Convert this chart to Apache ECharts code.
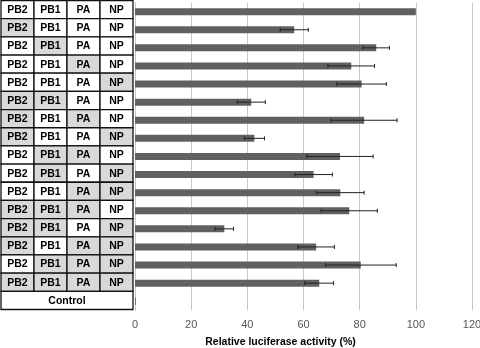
<!DOCTYPE html>
<html>
<head>
<meta charset="utf-8">
<script src="https://cdn.jsdelivr.net/npm/echarts@6/dist/echarts.min.js"></script>
<style>
  html, body { margin: 0; padding: 0; background: #fff; }
  #chart { width: 480px; height: 348px; }
</style>
</head>
<body>
<div id="chart"></div>
<script>
  // segment columns of the table
  var segments = ['PB2', 'PB1', 'PA', 'NP'];
  // 1 = grey (shaded) cell, one row per construct combination
  var shading = [
    [0, 0, 0, 0],
    [1, 0, 0, 0],
    [0, 1, 0, 0],
    [0, 0, 1, 0],
    [0, 0, 0, 1],
    [1, 1, 0, 0],
    [1, 0, 1, 0],
    [1, 0, 0, 1],
    [0, 1, 1, 0],
    [0, 1, 0, 1],
    [0, 0, 1, 1],
    [1, 1, 1, 0],
    [1, 1, 0, 1],
    [1, 0, 1, 1],
    [0, 1, 1, 1],
    [1, 1, 1, 1]
  ];
  var controlLabel = 'Control';
  var rowIds = ['r1', 'r2', 'r3', 'r4', 'r5', 'r6', 'r7', 'r8', 'r9', 'r10',
                'r11', 'r12', 'r13', 'r14', 'r15', 'r16', 'control'];
  // relative luciferase activity (%) and error (+/-)
  var activity = [100, 56.7, 85.9, 77, 80.7, 41.4, 81.6, 42.5, 73, 63.6, 73.1, 76.3, 31.8, 64.5, 80.4, 65.6, 0.3];
  var errors = [0, 5, 4.7, 8.3, 8.8, 5, 11.7, 3.6, 11.8, 6.7, 8.5, 10, 3.3, 6.5, 12.6, 5.1, 0];
  var xMin = 0, xMax = 120, xStep = 20;
  var axisTitle = 'Relative luciferase activity (%)';

  var FONT = '"Liberation Sans", Arial, sans-serif';

  // table cells: [col, row, shaded, span]
  var cells = [];
  var cellText = [];
  shading.forEach(function (row, r) {
    row.forEach(function (s, c) {
      cells.push([c, r, s, 1]);
      cellText.push(segments[c]);
    });
  });
  cells.push([0, rowIds.length - 1, 0, segments.length]);
  cellText.push(controlLabel);

  var errData = [];
  activity.forEach(function (v, i) {
    if (errors[i] > 0) {
      errData.push([i, v - errors[i], v + errors[i]]);
    }
  });

  function renderCell(params, api) {
    var c = api.coord([api.value(0), api.value(1)]);
    var sz = api.size([1, 1]);
    var span = api.value(3);
    var x0 = c[0] - sz[0] / 2;
    var y0 = c[1] - sz[1] / 2;
    var w = sz[0] * span;
    return {
      type: 'group',
      children: [{
        type: 'rect',
        shape: { x: x0, y: y0, width: w, height: sz[1] },
        style: {
          fill: api.value(2) ? '#d9d9d9' : '#fff',
          stroke: '#111',
          lineWidth: 1.3
        }
      }, {
        type: 'text',
        style: {
          text: cellText[params.dataIndex],
          x: x0 + w / 2,
          y: c[1] + 0.5,
          align: 'center',
          verticalAlign: 'middle',
          fill: '#000',
          font: 'bold 10.5px ' + FONT
        }
      }]
    };
  }

  function renderErr(params, api) {
    var lo = api.coord([api.value(1), api.value(0)]);
    var hi = api.coord([api.value(2), api.value(0)]);
    var cap = 2;
    var st = { stroke: '#222', lineWidth: 1 };
    return {
      type: 'group',
      children: [
        { type: 'line', shape: { x1: lo[0], y1: lo[1], x2: hi[0], y2: hi[1] }, style: st },
        { type: 'line', shape: { x1: lo[0], y1: lo[1] - cap, x2: lo[0], y2: lo[1] + cap }, style: st },
        { type: 'line', shape: { x1: hi[0], y1: hi[1] - cap, x2: hi[0], y2: hi[1] + cap }, style: st }
      ]
    };
  }

  var chart = echarts.init(document.getElementById('chart'));
  chart.setOption({
    animation: false,
    grid: [
      { left: 1, top: 0.5, width: 132, height: 309, outerBoundsMode: 'none' },
      { left: 135, right: 8, top: 2.6, height: 307.7, outerBoundsMode: 'none' }
    ],
    xAxis: [
      { gridIndex: 0, type: 'category', data: segments, show: false },
      {
        gridIndex: 1, type: 'value', min: xMin, max: xMax, interval: xStep,
        axisLine: { show: false },
        axisTick: { show: false },
        axisLabel: { color: '#555', fontSize: 11, margin: 9, fontFamily: FONT },
        splitLine: { lineStyle: { color: '#c8c8c8', width: 1 } },
        name: axisTitle,
        nameLocation: 'middle',
        nameGap: 26,
        nameTextStyle: {
          color: '#000', fontSize: 10.5, fontWeight: 'bold',
          fontFamily: FONT,
          padding: [0, 46, 0, 0]
        }
      }
    ],
    yAxis: [
      { gridIndex: 0, type: 'category', data: rowIds, inverse: true, show: false },
      {
        gridIndex: 1, type: 'category', data: rowIds, inverse: true,
        axisLine: { lineStyle: { color: '#c8c8c8' } },
        axisTick: { show: false },
        axisLabel: { show: false }
      }
    ],
    series: [
      {
        type: 'custom',
        xAxisIndex: 0, yAxisIndex: 0,
        renderItem: renderCell,
        encode: { x: 0, y: 1 },
        data: cells,
        z: 3
      },
      {
        type: 'bar',
        xAxisIndex: 1, yAxisIndex: 1,
        data: activity,
        barWidth: 7,
        itemStyle: { color: '#606060' }
      },
      {
        type: 'custom',
        xAxisIndex: 1, yAxisIndex: 1,
        renderItem: renderErr,
        encode: { x: [1, 2], y: 0 },
        data: errData,
        z: 4
      }
    ]
  });
</script>
</body>
</html>
